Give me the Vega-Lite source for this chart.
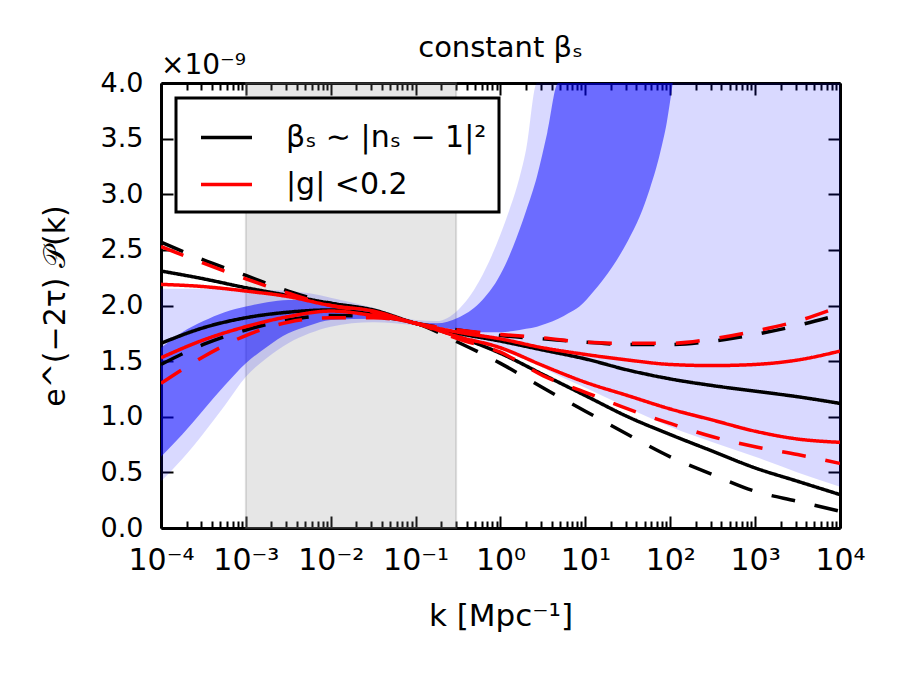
{
  "$schema": "https://vega.github.io/schema/vega-lite/v6.json",
  "width": 679,
  "height": 445,
  "autosize": {"type": "none"},
  "padding": {"left": 161, "top": 83, "right": 60, "bottom": 147},
  "background": "white",
  "title": {"text": "constant βₛ", "fontSize": 29, "fontWeight": "normal", "font": "DejaVu Sans", "color": "black", "offset": -11},
  "datasets": {
    "light": [
      {"k": 0.0001, "lo": 0.42, "hi": 2.15},
      {"k": 0.000178, "lo": 0.62, "hi": 2.15},
      {"k": 0.000316, "lo": 0.85, "hi": 2.15},
      {"k": 0.000562, "lo": 1.10, "hi": 2.15},
      {"k": 0.001, "lo": 1.36, "hi": 2.14},
      {"k": 0.00178, "lo": 1.53, "hi": 2.14},
      {"k": 0.00316, "lo": 1.66, "hi": 2.13},
      {"k": 0.00562, "lo": 1.75, "hi": 2.11},
      {"k": 0.01, "lo": 1.81, "hi": 2.07},
      {"k": 0.0316, "lo": 1.85, "hi": 1.98},
      {"k": 0.1, "lo": 1.82, "hi": 1.87},
      {"k": 0.178, "lo": 1.79, "hi": 1.86},
      {"k": 0.316, "lo": 1.74, "hi": 1.96},
      {"k": 0.562, "lo": 1.67, "hi": 2.22},
      {"k": 1, "lo": 1.60, "hi": 2.64},
      {"k": 1.26, "lo": 1.57, "hi": 2.85},
      {"k": 1.58, "lo": 1.54, "hi": 3.08},
      {"k": 2.0, "lo": 1.51, "hi": 3.40},
      {"k": 2.69, "lo": 1.47, "hi": 4.0},
      {"k": 3.16, "lo": 1.44, "hi": 4.0},
      {"k": 10, "lo": 1.26, "hi": 4.0},
      {"k": 31.6, "lo": 1.08, "hi": 4.0},
      {"k": 100, "lo": 0.91, "hi": 4.0},
      {"k": 316, "lo": 0.77, "hi": 4.0},
      {"k": 1000, "lo": 0.64, "hi": 4.0},
      {"k": 3162, "lo": 0.50, "hi": 4.0},
      {"k": 10000, "lo": 0.37, "hi": 4.0}
    ],
    "dark": [
      {"k": 0.0001, "lo": 0.64, "hi": 1.62},
      {"k": 0.000178, "lo": 0.84, "hi": 1.76},
      {"k": 0.000316, "lo": 1.06, "hi": 1.86},
      {"k": 0.000562, "lo": 1.28, "hi": 1.94},
      {"k": 0.001, "lo": 1.48, "hi": 1.99},
      {"k": 0.00178, "lo": 1.63, "hi": 2.03},
      {"k": 0.00316, "lo": 1.75, "hi": 2.05},
      {"k": 0.00562, "lo": 1.82, "hi": 2.05},
      {"k": 0.01, "lo": 1.87, "hi": 2.03},
      {"k": 0.0316, "lo": 1.88, "hi": 1.95},
      {"k": 0.1, "lo": 1.84, "hi": 1.85},
      {"k": 0.178, "lo": 1.81, "hi": 1.84},
      {"k": 0.316, "lo": 1.78, "hi": 1.89},
      {"k": 0.562, "lo": 1.76, "hi": 2.02},
      {"k": 1, "lo": 1.76, "hi": 2.28},
      {"k": 1.41, "lo": 1.77, "hi": 2.53},
      {"k": 2.0, "lo": 1.79, "hi": 2.85},
      {"k": 2.69, "lo": 1.81, "hi": 3.16},
      {"k": 3.55, "lo": 1.84, "hi": 3.55},
      {"k": 4.79, "lo": 1.88, "hi": 4.0},
      {"k": 6.31, "lo": 1.93, "hi": 4.0},
      {"k": 8.51, "lo": 1.99, "hi": 4.0},
      {"k": 12.6, "lo": 2.13, "hi": 4.0},
      {"k": 20.9, "lo": 2.35, "hi": 4.0},
      {"k": 31.6, "lo": 2.58, "hi": 4.0},
      {"k": 43.7, "lo": 2.80, "hi": 4.0},
      {"k": 57.5, "lo": 3.05, "hi": 4.0},
      {"k": 75.9, "lo": 3.37, "hi": 4.0},
      {"k": 91.2, "lo": 3.65, "hi": 4.0},
      {"k": 107, "lo": 4.0, "hi": 4.0}
    ],
    "lines": [
      {"curve": "A", "model": "βₛ ∼ |nₛ − 1|²", "style": "solid", "k": 0.0001, "v": 2.31},
      {"curve": "A", "model": "βₛ ∼ |nₛ − 1|²", "style": "solid", "k": 0.000316, "v": 2.24},
      {"curve": "A", "model": "βₛ ∼ |nₛ − 1|²", "style": "solid", "k": 0.001, "v": 2.16},
      {"curve": "A", "model": "βₛ ∼ |nₛ − 1|²", "style": "solid", "k": 0.00316, "v": 2.09},
      {"curve": "A", "model": "βₛ ∼ |nₛ − 1|²", "style": "solid", "k": 0.01, "v": 2.02},
      {"curve": "A", "model": "βₛ ∼ |nₛ − 1|²", "style": "solid", "k": 0.0316, "v": 1.96},
      {"curve": "A", "model": "βₛ ∼ |nₛ − 1|²", "style": "solid", "k": 0.1, "v": 1.84},
      {"curve": "A", "model": "βₛ ∼ |nₛ − 1|²", "style": "solid", "k": 0.316, "v": 1.75},
      {"curve": "A", "model": "βₛ ∼ |nₛ − 1|²", "style": "solid", "k": 1, "v": 1.68},
      {"curve": "A", "model": "βₛ ∼ |nₛ − 1|²", "style": "solid", "k": 3.16, "v": 1.60},
      {"curve": "A", "model": "βₛ ∼ |nₛ − 1|²", "style": "solid", "k": 10, "v": 1.52},
      {"curve": "A", "model": "βₛ ∼ |nₛ − 1|²", "style": "solid", "k": 31.6, "v": 1.42},
      {"curve": "A", "model": "βₛ ∼ |nₛ − 1|²", "style": "solid", "k": 100, "v": 1.34},
      {"curve": "A", "model": "βₛ ∼ |nₛ − 1|²", "style": "solid", "k": 316, "v": 1.28},
      {"curve": "A", "model": "βₛ ∼ |nₛ − 1|²", "style": "solid", "k": 1000, "v": 1.23},
      {"curve": "A", "model": "βₛ ∼ |nₛ − 1|²", "style": "solid", "k": 3162, "v": 1.18},
      {"curve": "A", "model": "βₛ ∼ |nₛ − 1|²", "style": "solid", "k": 10000, "v": 1.12},

      {"curve": "B", "model": "βₛ ∼ |nₛ − 1|²", "style": "solid", "k": 0.0001, "v": 1.66},
      {"curve": "B", "model": "βₛ ∼ |nₛ − 1|²", "style": "solid", "k": 0.000316, "v": 1.80},
      {"curve": "B", "model": "βₛ ∼ |nₛ − 1|²", "style": "solid", "k": 0.001, "v": 1.89},
      {"curve": "B", "model": "βₛ ∼ |nₛ − 1|²", "style": "solid", "k": 0.00316, "v": 1.94},
      {"curve": "B", "model": "βₛ ∼ |nₛ − 1|²", "style": "solid", "k": 0.01, "v": 1.96},
      {"curve": "B", "model": "βₛ ∼ |nₛ − 1|²", "style": "solid", "k": 0.0316, "v": 1.92},
      {"curve": "B", "model": "βₛ ∼ |nₛ − 1|²", "style": "solid", "k": 0.1, "v": 1.84},
      {"curve": "B", "model": "βₛ ∼ |nₛ − 1|²", "style": "solid", "k": 0.316, "v": 1.72},
      {"curve": "B", "model": "βₛ ∼ |nₛ − 1|²", "style": "solid", "k": 1, "v": 1.57},
      {"curve": "B", "model": "βₛ ∼ |nₛ − 1|²", "style": "solid", "k": 3.16, "v": 1.38},
      {"curve": "B", "model": "βₛ ∼ |nₛ − 1|²", "style": "solid", "k": 10, "v": 1.19},
      {"curve": "B", "model": "βₛ ∼ |nₛ − 1|²", "style": "solid", "k": 31.6, "v": 1.00},
      {"curve": "B", "model": "βₛ ∼ |nₛ − 1|²", "style": "solid", "k": 100, "v": 0.84},
      {"curve": "B", "model": "βₛ ∼ |nₛ − 1|²", "style": "solid", "k": 316, "v": 0.69},
      {"curve": "B", "model": "βₛ ∼ |nₛ − 1|²", "style": "solid", "k": 1000, "v": 0.54},
      {"curve": "B", "model": "βₛ ∼ |nₛ − 1|²", "style": "solid", "k": 3162, "v": 0.42},
      {"curve": "B", "model": "βₛ ∼ |nₛ − 1|²", "style": "solid", "k": 10000, "v": 0.30},

      {"curve": "C", "model": "βₛ ∼ |nₛ − 1|²", "style": "dashed", "k": 0.0001, "v": 2.57},
      {"curve": "C", "model": "βₛ ∼ |nₛ − 1|²", "style": "dashed", "k": 0.000316, "v": 2.41},
      {"curve": "C", "model": "βₛ ∼ |nₛ − 1|²", "style": "dashed", "k": 0.001, "v": 2.27},
      {"curve": "C", "model": "βₛ ∼ |nₛ − 1|²", "style": "dashed", "k": 0.00316, "v": 2.13},
      {"curve": "C", "model": "βₛ ∼ |nₛ − 1|²", "style": "dashed", "k": 0.01, "v": 2.02},
      {"curve": "C", "model": "βₛ ∼ |nₛ − 1|²", "style": "dashed", "k": 0.0316, "v": 1.95},
      {"curve": "C", "model": "βₛ ∼ |nₛ − 1|²", "style": "dashed", "k": 0.1, "v": 1.84},
      {"curve": "C", "model": "βₛ ∼ |nₛ − 1|²", "style": "dashed", "k": 0.316, "v": 1.78},
      {"curve": "C", "model": "βₛ ∼ |nₛ − 1|²", "style": "dashed", "k": 1, "v": 1.73},
      {"curve": "C", "model": "βₛ ∼ |nₛ − 1|²", "style": "dashed", "k": 3.16, "v": 1.70},
      {"curve": "C", "model": "βₛ ∼ |nₛ − 1|²", "style": "dashed", "k": 10, "v": 1.67},
      {"curve": "C", "model": "βₛ ∼ |nₛ − 1|²", "style": "dashed", "k": 31.6, "v": 1.65},
      {"curve": "C", "model": "βₛ ∼ |nₛ − 1|²", "style": "dashed", "k": 100, "v": 1.65},
      {"curve": "C", "model": "βₛ ∼ |nₛ − 1|²", "style": "dashed", "k": 316, "v": 1.68},
      {"curve": "C", "model": "βₛ ∼ |nₛ − 1|²", "style": "dashed", "k": 1000, "v": 1.74},
      {"curve": "C", "model": "βₛ ∼ |nₛ − 1|²", "style": "dashed", "k": 3162, "v": 1.82},
      {"curve": "C", "model": "βₛ ∼ |nₛ − 1|²", "style": "dashed", "k": 10000, "v": 1.92},

      {"curve": "D", "model": "βₛ ∼ |nₛ − 1|²", "style": "dashed", "k": 0.0001, "v": 1.47},
      {"curve": "D", "model": "βₛ ∼ |nₛ − 1|²", "style": "dashed", "k": 0.000316, "v": 1.65},
      {"curve": "D", "model": "βₛ ∼ |nₛ − 1|²", "style": "dashed", "k": 0.001, "v": 1.78},
      {"curve": "D", "model": "βₛ ∼ |nₛ − 1|²", "style": "dashed", "k": 0.00316, "v": 1.87},
      {"curve": "D", "model": "βₛ ∼ |nₛ − 1|²", "style": "dashed", "k": 0.01, "v": 1.91},
      {"curve": "D", "model": "βₛ ∼ |nₛ − 1|²", "style": "dashed", "k": 0.0316, "v": 1.90},
      {"curve": "D", "model": "βₛ ∼ |nₛ − 1|²", "style": "dashed", "k": 0.1, "v": 1.84},
      {"curve": "D", "model": "βₛ ∼ |nₛ − 1|²", "style": "dashed", "k": 0.316, "v": 1.67},
      {"curve": "D", "model": "βₛ ∼ |nₛ − 1|²", "style": "dashed", "k": 1, "v": 1.48},
      {"curve": "D", "model": "βₛ ∼ |nₛ − 1|²", "style": "dashed", "k": 3.16, "v": 1.26},
      {"curve": "D", "model": "βₛ ∼ |nₛ − 1|²", "style": "dashed", "k": 10, "v": 1.05},
      {"curve": "D", "model": "βₛ ∼ |nₛ − 1|²", "style": "dashed", "k": 31.6, "v": 0.84},
      {"curve": "D", "model": "βₛ ∼ |nₛ − 1|²", "style": "dashed", "k": 100, "v": 0.64},
      {"curve": "D", "model": "βₛ ∼ |nₛ − 1|²", "style": "dashed", "k": 316, "v": 0.48},
      {"curve": "D", "model": "βₛ ∼ |nₛ − 1|²", "style": "dashed", "k": 1000, "v": 0.33},
      {"curve": "D", "model": "βₛ ∼ |nₛ − 1|²", "style": "dashed", "k": 3162, "v": 0.24},
      {"curve": "D", "model": "βₛ ∼ |nₛ − 1|²", "style": "dashed", "k": 10000, "v": 0.15},

      {"curve": "E", "model": "|g| <0.2", "style": "solid", "k": 0.0001, "v": 2.19},
      {"curve": "E", "model": "|g| <0.2", "style": "solid", "k": 0.000316, "v": 2.17},
      {"curve": "E", "model": "|g| <0.2", "style": "solid", "k": 0.001, "v": 2.13},
      {"curve": "E", "model": "|g| <0.2", "style": "solid", "k": 0.00316, "v": 2.08},
      {"curve": "E", "model": "|g| <0.2", "style": "solid", "k": 0.01, "v": 2.00},
      {"curve": "E", "model": "|g| <0.2", "style": "solid", "k": 0.0316, "v": 1.95},
      {"curve": "E", "model": "|g| <0.2", "style": "solid", "k": 0.1, "v": 1.84},
      {"curve": "E", "model": "|g| <0.2", "style": "solid", "k": 0.316, "v": 1.76},
      {"curve": "E", "model": "|g| <0.2", "style": "solid", "k": 1, "v": 1.70},
      {"curve": "E", "model": "|g| <0.2", "style": "solid", "k": 3.16, "v": 1.62},
      {"curve": "E", "model": "|g| <0.2", "style": "solid", "k": 10, "v": 1.56},
      {"curve": "E", "model": "|g| <0.2", "style": "solid", "k": 31.6, "v": 1.51},
      {"curve": "E", "model": "|g| <0.2", "style": "solid", "k": 100, "v": 1.47},
      {"curve": "E", "model": "|g| <0.2", "style": "solid", "k": 316, "v": 1.46},
      {"curve": "E", "model": "|g| <0.2", "style": "solid", "k": 1000, "v": 1.47},
      {"curve": "E", "model": "|g| <0.2", "style": "solid", "k": 3162, "v": 1.51},
      {"curve": "E", "model": "|g| <0.2", "style": "solid", "k": 10000, "v": 1.59},

      {"curve": "F", "model": "|g| <0.2", "style": "solid", "k": 0.0001, "v": 1.53},
      {"curve": "F", "model": "|g| <0.2", "style": "solid", "k": 0.000316, "v": 1.69},
      {"curve": "F", "model": "|g| <0.2", "style": "solid", "k": 0.001, "v": 1.81},
      {"curve": "F", "model": "|g| <0.2", "style": "solid", "k": 0.00316, "v": 1.90},
      {"curve": "F", "model": "|g| <0.2", "style": "solid", "k": 0.01, "v": 1.95},
      {"curve": "F", "model": "|g| <0.2", "style": "solid", "k": 0.0316, "v": 1.91},
      {"curve": "F", "model": "|g| <0.2", "style": "solid", "k": 0.1, "v": 1.84},
      {"curve": "F", "model": "|g| <0.2", "style": "solid", "k": 0.316, "v": 1.72},
      {"curve": "F", "model": "|g| <0.2", "style": "solid", "k": 1, "v": 1.62},
      {"curve": "F", "model": "|g| <0.2", "style": "solid", "k": 3.16, "v": 1.46},
      {"curve": "F", "model": "|g| <0.2", "style": "solid", "k": 10, "v": 1.31},
      {"curve": "F", "model": "|g| <0.2", "style": "solid", "k": 31.6, "v": 1.19},
      {"curve": "F", "model": "|g| <0.2", "style": "solid", "k": 100, "v": 1.07},
      {"curve": "F", "model": "|g| <0.2", "style": "solid", "k": 316, "v": 0.97},
      {"curve": "F", "model": "|g| <0.2", "style": "solid", "k": 1000, "v": 0.87},
      {"curve": "F", "model": "|g| <0.2", "style": "solid", "k": 3162, "v": 0.80},
      {"curve": "F", "model": "|g| <0.2", "style": "solid", "k": 10000, "v": 0.77},

      {"curve": "G", "model": "|g| <0.2", "style": "dashed", "k": 0.0001, "v": 2.53},
      {"curve": "G", "model": "|g| <0.2", "style": "dashed", "k": 0.000316, "v": 2.38},
      {"curve": "G", "model": "|g| <0.2", "style": "dashed", "k": 0.001, "v": 2.24},
      {"curve": "G", "model": "|g| <0.2", "style": "dashed", "k": 0.00316, "v": 2.11},
      {"curve": "G", "model": "|g| <0.2", "style": "dashed", "k": 0.01, "v": 2.00},
      {"curve": "G", "model": "|g| <0.2", "style": "dashed", "k": 0.0316, "v": 1.94},
      {"curve": "G", "model": "|g| <0.2", "style": "dashed", "k": 0.1, "v": 1.84},
      {"curve": "G", "model": "|g| <0.2", "style": "dashed", "k": 0.316, "v": 1.78},
      {"curve": "G", "model": "|g| <0.2", "style": "dashed", "k": 1, "v": 1.74},
      {"curve": "G", "model": "|g| <0.2", "style": "dashed", "k": 3.16, "v": 1.71},
      {"curve": "G", "model": "|g| <0.2", "style": "dashed", "k": 10, "v": 1.67},
      {"curve": "G", "model": "|g| <0.2", "style": "dashed", "k": 31.6, "v": 1.66},
      {"curve": "G", "model": "|g| <0.2", "style": "dashed", "k": 100, "v": 1.66},
      {"curve": "G", "model": "|g| <0.2", "style": "dashed", "k": 316, "v": 1.70},
      {"curve": "G", "model": "|g| <0.2", "style": "dashed", "k": 1000, "v": 1.77},
      {"curve": "G", "model": "|g| <0.2", "style": "dashed", "k": 3162, "v": 1.86},
      {"curve": "G", "model": "|g| <0.2", "style": "dashed", "k": 10000, "v": 1.99},

      {"curve": "H", "model": "|g| <0.2", "style": "dashed", "k": 0.0001, "v": 1.30},
      {"curve": "H", "model": "|g| <0.2", "style": "dashed", "k": 0.000316, "v": 1.54},
      {"curve": "H", "model": "|g| <0.2", "style": "dashed", "k": 0.001, "v": 1.73},
      {"curve": "H", "model": "|g| <0.2", "style": "dashed", "k": 0.00316, "v": 1.85},
      {"curve": "H", "model": "|g| <0.2", "style": "dashed", "k": 0.01, "v": 1.89},
      {"curve": "H", "model": "|g| <0.2", "style": "dashed", "k": 0.0316, "v": 1.89},
      {"curve": "H", "model": "|g| <0.2", "style": "dashed", "k": 0.1, "v": 1.84},
      {"curve": "H", "model": "|g| <0.2", "style": "dashed", "k": 0.316, "v": 1.70},
      {"curve": "H", "model": "|g| <0.2", "style": "dashed", "k": 1, "v": 1.58},
      {"curve": "H", "model": "|g| <0.2", "style": "dashed", "k": 3.16, "v": 1.37},
      {"curve": "H", "model": "|g| <0.2", "style": "dashed", "k": 10, "v": 1.22},
      {"curve": "H", "model": "|g| <0.2", "style": "dashed", "k": 31.6, "v": 1.07},
      {"curve": "H", "model": "|g| <0.2", "style": "dashed", "k": 100, "v": 0.94},
      {"curve": "H", "model": "|g| <0.2", "style": "dashed", "k": 316, "v": 0.82},
      {"curve": "H", "model": "|g| <0.2", "style": "dashed", "k": 1000, "v": 0.73},
      {"curve": "H", "model": "|g| <0.2", "style": "dashed", "k": 3162, "v": 0.66},
      {"curve": "H", "model": "|g| <0.2", "style": "dashed", "k": 10000, "v": 0.58}
    ]
  },
  "resolve": {"axis": {"x": "independent", "y": "independent"}},
  "layer": [
    {
      "data": {"values": [{}]},
      "mark": {"type": "rect", "fill": "#808080", "fillOpacity": 0.2, "stroke": "#808080", "strokeOpacity": 0.25, "strokeWidth": 2},
      "encoding": {
        "x": {"datum": 0.001, "type": "quantitative", "scale": {"type": "log", "domain": [0.0001, 10000]}, "axis": null},
        "x2": {"datum": 0.3},
        "y": {"datum": 0, "type": "quantitative", "scale": {"domain": [0, 4], "nice": false, "zero": false}, "axis": null},
        "y2": {"datum": 4}
      }
    },
    {
      "data": {"name": "light"},
      "mark": {"type": "area", "color": "#0000ff", "fillOpacity": 0.15, "interpolate": "monotone", "clip": true},
      "encoding": {
        "x": {"field": "k", "type": "quantitative", "scale": {"type": "log", "domain": [0.0001, 10000]},
          "axis": {
            "orient": "bottom",
            "values": [0.0001,0.0002,0.0003,0.0004,0.0005,0.0006,0.0007,0.0008,0.0009,0.001,0.002,0.003,0.004,0.005,0.006,0.007,0.008,0.009,0.01,0.02,0.03,0.04,0.05,0.06,0.07,0.08,0.09,0.1,0.2,0.3,0.4,0.5,0.6,0.7,0.8,0.9,1,2,3,4,5,6,7,8,9,10,20,30,40,50,60,70,80,90,100,200,300,400,500,600,700,800,900,1000,2000,3000,4000,5000,6000,7000,8000,9000,10000],
            "title": "k [Mpc⁻¹]",
            "titleFontSize": 31,
            "labelFontSize": 30,
            "tickSize": {"condition": {"test": "abs(log(datum.value)/LN10 - round(log(datum.value)/LN10)) < 0.01", "value": -12}, "value": -7},
            "labelExpr": "abs(log(datum.value)/LN10 - round(log(datum.value)/LN10)) < 0.01 ? ['10⁻⁴','10⁻³','10⁻²','10⁻¹','10⁰','10¹','10²','10³','10⁴'][round(log(datum.value)/LN10)+4] : ''",
            "labelOverlap": false,
            "labelFlush": false,
            "labelPadding": 29,
            "titlePadding": 21
          }
        },
        "y": {"field": "lo", "type": "quantitative", "scale": {"domain": [0, 4], "nice": false, "zero": false},
          "axis": {
            "orient": "left",
            "values": [0, 0.5, 1, 1.5, 2, 2.5, 3, 3.5, 4],
            "format": ".1f",
            "title": "e^(−2τ) 𝒫(k)",
            "titleFontSize": 30,
            "labelFontSize": 27,
            "tickSize": -12,
            "labelPadding": 30,
            "labelFlush": false,
            "labelOverlap": false,
            "titlePadding": 30
          }
        },
        "y2": {"field": "hi"}
      }
    },
    {
      "data": {"name": "dark"},
      "mark": {"type": "area", "color": "#0000ff", "fillOpacity": 0.5, "interpolate": "monotone", "clip": true},
      "encoding": {
        "x": {"field": "k", "type": "quantitative", "scale": {"type": "log", "domain": [0.0001, 10000]},
          "axis": {
            "orient": "top",
            "values": [0.0001,0.0002,0.0003,0.0004,0.0005,0.0006,0.0007,0.0008,0.0009,0.001,0.002,0.003,0.004,0.005,0.006,0.007,0.008,0.009,0.01,0.02,0.03,0.04,0.05,0.06,0.07,0.08,0.09,0.1,0.2,0.3,0.4,0.5,0.6,0.7,0.8,0.9,1,2,3,4,5,6,7,8,9,10,20,30,40,50,60,70,80,90,100,200,300,400,500,600,700,800,900,1000,2000,3000,4000,5000,6000,7000,8000,9000,10000],
            "title": null,
            "labels": false,
            "tickSize": {"condition": {"test": "abs(log(datum.value)/LN10 - round(log(datum.value)/LN10)) < 0.01", "value": -12}, "value": -7}
          }
        },
        "y": {"field": "lo", "type": "quantitative", "scale": {"domain": [0, 4], "nice": false, "zero": false},
          "axis": {
            "orient": "right",
            "values": [0, 0.5, 1, 1.5, 2, 2.5, 3, 3.5, 4],
            "title": null,
            "labels": false,
            "tickSize": -12
          }
        },
        "y2": {"field": "hi"}
      }
    },
    {
      "data": {"name": "lines"},
      "transform": [{"filter": "datum.curve === 'A' || datum.curve === 'B' || datum.curve === 'C' || datum.curve === 'D'"}],
      "mark": {"type": "line", "strokeWidth": 3.5, "interpolate": "monotone", "clip": true},
      "encoding": {
        "x": {"field": "k", "type": "quantitative", "scale": {"type": "log", "domain": [0.0001, 10000]}, "axis": null},
        "y": {"field": "v", "type": "quantitative", "scale": {"domain": [0, 4], "nice": false, "zero": false}, "axis": null},
        "detail": {"field": "curve"},
        "color": {"field": "model", "type": "nominal",
          "scale": {"domain": ["βₛ ∼ |nₛ − 1|²", "|g| <0.2"], "range": ["#000000", "#ff0000"]},
          "legend": {
            "orient": "none", "legendX": 15, "legendY": 15, "title": null,
            "symbolType": "stroke", "symbolSize": 2600, "symbolStrokeWidth": 3.5,
            "labelFontSize": 30, "labelFont": "DejaVu Sans", "labelColor": "black",
            "strokeColor": "black", "fillColor": "white", "padding": 12,
            "symbolOffset": 11, "labelOffset": 32, "rowPadding": 4,
            "labelLimit": 400
          }
        },
        "strokeDash": {"field": "style", "type": "nominal", "scale": {"domain": ["solid", "dashed"], "range": [[1, 0], [24, 20]]}, "legend": null}
      }
    },
    {
      "data": {"name": "lines"},
      "transform": [{"filter": "datum.curve === 'E' || datum.curve === 'F' || datum.curve === 'G' || datum.curve === 'H'"}],
      "mark": {"type": "line", "strokeWidth": 3.5, "interpolate": "monotone", "clip": true},
      "encoding": {
        "x": {"field": "k", "type": "quantitative", "scale": {"type": "log", "domain": [0.0001, 10000]}, "axis": null},
        "y": {"field": "v", "type": "quantitative", "scale": {"domain": [0, 4], "nice": false, "zero": false}, "axis": null},
        "detail": {"field": "curve"},
        "color": {"field": "model", "type": "nominal"},
        "strokeDash": {"field": "style", "type": "nominal", "legend": null}
      }
    },
    {
      "data": {"values": [{}]},
      "mark": {"type": "text", "text": "×10⁻⁹", "align": "left", "baseline": "alphabetic", "dy": -9, "fontSize": 28, "font": "DejaVu Sans", "color": "black"},
      "encoding": {
        "x": {"datum": 0.0001, "type": "quantitative", "scale": {"type": "log", "domain": [0.0001, 10000]}, "axis": null},
        "y": {"datum": 4, "type": "quantitative", "scale": {"domain": [0, 4], "nice": false, "zero": false}, "axis": null}
      }
    }
  ],
  "config": {
    "font": "DejaVu Sans",
    "view": {"stroke": null},
    "axis": {
      "grid": false,
      "labelFont": "DejaVu Sans",
      "labelFontSize": 26,
      "labelColor": "black",
      "titleFont": "DejaVu Sans",
      "titleFontSize": 28,
      "titleFontWeight": "normal",
      "titleColor": "black",
      "domainColor": "black",
      "domainWidth": 3,
      "tickColor": "black",
      "tickWidth": 2,
      "zindex": 1
    },
    "legend": {"strokeWidth": 3}
  }
}
